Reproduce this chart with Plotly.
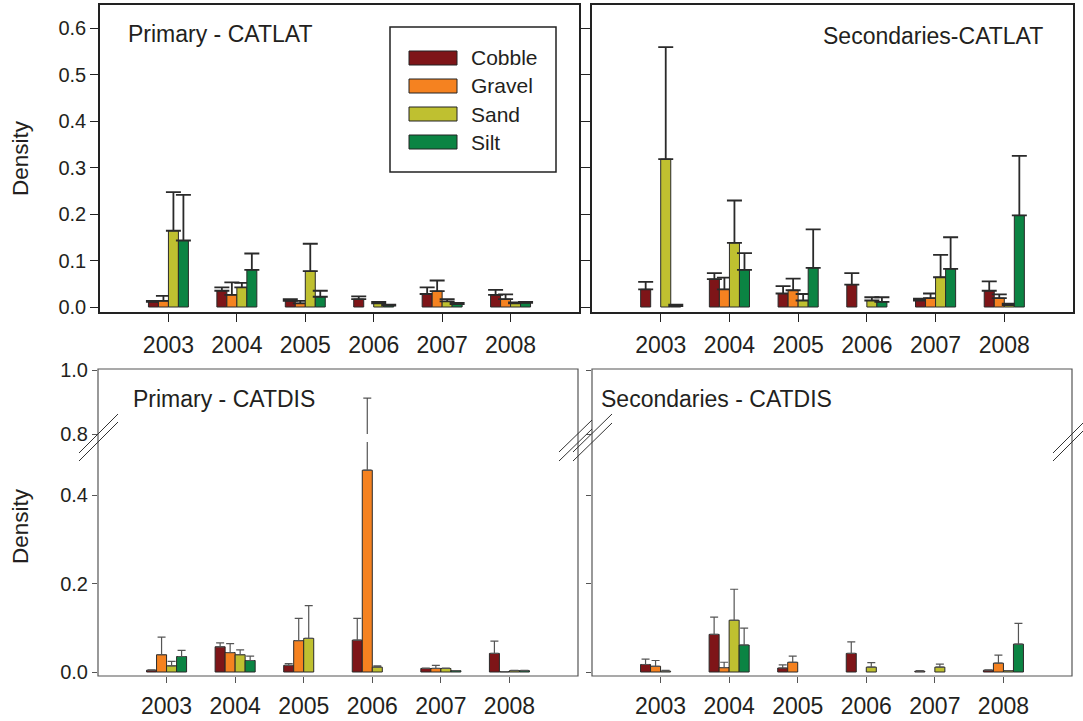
import plotly.graph_objects as go

# ---------------- data ----------------
years = ["2003", "2004", "2005", "2006", "2007", "2008"]
substrates = ["Cobble", "Gravel", "Sand", "Silt"]
colors = ["#7E1518", "#F58220", "#BFC030", "#0B8443"]

# Primary - CATLAT (mean, upper SE)
p_lat_cobble = [0.011, 0.035, 0.013, 0.017, 0.028, 0.026]
p_lat_cobble_se = [0.002, 0.007, 0.004, 0.006, 0.014, 0.011]
p_lat_gravel = [0.013, 0.026, 0.008, None, 0.034, 0.017]
p_lat_gravel_se = [0.011, 0.027, 0.005, 0, 0.023, 0.010]
p_lat_sand = [0.164, 0.042, 0.077, 0.008, 0.012, 0.008]
p_lat_sand_se = [0.083, 0.010, 0.059, 0.003, 0.005, 0.002]
p_lat_silt = [0.143, 0.080, 0.022, 0.003, 0.006, 0.009]
p_lat_silt_se = [0.098, 0.035, 0.013, 0.002, 0.003, 0.002]

# Secondaries - CATLAT
s_lat_cobble = [0.038, 0.060, 0.029, 0.048, 0.014, 0.035]
s_lat_cobble_se = [0.016, 0.013, 0.016, 0.025, 0.004, 0.020]
s_lat_gravel = [None, 0.038, 0.036, None, 0.019, 0.019]
s_lat_gravel_se = [0, 0.025, 0.025, 0, 0.010, 0.008]
s_lat_sand = [0.318, 0.138, 0.014, 0.014, 0.064, 0.004]
s_lat_sand_se = [0.241, 0.091, 0.014, 0.007, 0.048, 0.003]
s_lat_silt = [0.002, 0.080, 0.084, 0.011, 0.082, 0.197]
s_lat_silt_se = [0.003, 0.036, 0.083, 0.010, 0.068, 0.128]

# Primary - CATDIS
p_dis_cobble = [0.004, 0.057, 0.015, 0.072, 0.008, 0.042]
p_dis_cobble_se = [0.001, 0.009, 0.004, 0.049, 0.001, 0.028]
p_dis_gravel = [0.039, 0.044, 0.071, 0.456, 0.008, 0.001]
p_dis_gravel_se = [0.040, 0.020, 0.050, 0.456, 0.007, 0.0]
p_dis_sand = [0.014, 0.039, 0.076, 0.011, 0.008, 0.003]
p_dis_sand_se = [0.010, 0.011, 0.074, 0.003, 0.001, 0.001]
p_dis_silt = [0.035, 0.026, None, None, 0.003, 0.003]
p_dis_silt_se = [0.014, 0.010, 0, 0, 0.0, 0.001]

# Secondaries - CATDIS
s_dis_cobble = [0.017, 0.085, 0.009, 0.042, 0.002, 0.004]
s_dis_cobble_se = [0.012, 0.039, 0.007, 0.026, 0.001, 0.001]
s_dis_gravel = [0.013, 0.010, 0.022, None, None, 0.020]
s_dis_gravel_se = [0.013, 0.012, 0.014, 0, 0, 0.018]
s_dis_sand = [0.002, 0.117, None, 0.011, 0.011, 0.003]
s_dis_sand_se = [0.002, 0.070, 0, 0.010, 0.007, 0.0]
s_dis_silt = [None, 0.061, None, None, None, 0.063]
s_dis_silt_se = [0, 0.038, 0, 0, 0, 0.047]

top_ticks = [0.0, 0.1, 0.2, 0.3, 0.4, 0.5, 0.6]
low_ticks = [0.0, 0.2, 0.4]
up_ticks = [0.8, 1.0]

# ---------------- layout helpers ----------------
W, H = 1083, 721
FONT = "Liberation Sans, Arial, sans-serif"
TXT = "#231F20"


def fx(px):
    return px / W


def fy(py):
    return 1 - py / H


fig = go.Figure()


def add_panel(means, ses, xa, ya, top=True):
    for name, col, m, s in zip(substrates, colors, means, ses):
        fig.add_trace(go.Bar(
            x=years, y=m, name=name, xaxis=xa, yaxis=ya,
            marker=dict(color=col, line=dict(color="#2a2a2a", width=1)),
            error_y=dict(type="data", array=s, symmetric=False,
                         arrayminus=[0] * len(s),
                         color="#2a2a2a" if top else "#555555",
                         thickness=1.8 if top else 1.2,
                         width=7.5 if top else 4),
            showlegend=False, hoverinfo="x+y+name",
        ))


add_panel([p_lat_cobble, p_lat_gravel, p_lat_sand, p_lat_silt],
          [p_lat_cobble_se, p_lat_gravel_se, p_lat_sand_se, p_lat_silt_se], "x", "y")
add_panel([s_lat_cobble, s_lat_gravel, s_lat_sand, s_lat_silt],
          [s_lat_cobble_se, s_lat_gravel_se, s_lat_sand_se, s_lat_silt_se], "x2", "y2")
pd_means = [p_dis_cobble, p_dis_gravel, p_dis_sand, p_dis_silt]
pd_ses = [p_dis_cobble_se, p_dis_gravel_se, p_dis_sand_se, p_dis_silt_se]
sd_means = [s_dis_cobble, s_dis_gravel, s_dis_sand, s_dis_silt]
sd_ses = [s_dis_cobble_se, s_dis_gravel_se, s_dis_sand_se, s_dis_silt_se]
add_panel(pd_means, pd_ses, "x3", "y3", top=False)
add_panel(pd_means, pd_ses, "x3", "y5", top=False)
add_panel(sd_means, sd_ses, "x4", "y4", top=False)
add_panel(sd_means, sd_ses, "x4", "y6", top=False)

# axis styles
xcommon = dict(type="category", categoryorder="array", categoryarray=years,
               range=[-1, 6], ticks="outside", tickfont=dict(size=23, color=TXT, family=FONT),
               fixedrange=True, showgrid=False, zeroline=False, automargin=False)
top_line = dict(showline=True, mirror=True, linecolor="#222222", linewidth=1.5)

ycommon = dict(ticks="outside", tickfont=dict(size=20, color=TXT, family=FONT),
               showgrid=False, zeroline=False, fixedrange=True, automargin=False)

top_dom = [fy(312), fy(5)]
top_range = [-(312 - 307) / 465, (307 - 5) / 465]
low_dom = [fy(676), fy(442)]
low_range = [-(676 - 672) / 442.5, (672 - 442) / 442.5]
up_dom = [fy(434), fy(370)]

fig.update_layout(
    template="none",
    width=W, height=H, autosize=False, margin=dict(l=0, r=0, t=0, b=0, pad=0),
    paper_bgcolor="white", plot_bgcolor="white",
    barmode="group", bargap=0.416, bargroupgap=0,
    font=dict(family=FONT, color=TXT),
    xaxis=dict(domain=[fx(100), fx(579)], anchor="y", ticklen=8, tickcolor="#222",
               ticklabelstandoff=4, **xcommon, **top_line),
    yaxis=dict(domain=top_dom, anchor="x", range=top_range, tickvals=top_ticks,
               tickformat=".1f", ticklen=8, tickcolor="#222", **ycommon, **top_line),
    xaxis2=dict(domain=[fx(592), fx(1073)], anchor="y2", ticklen=8, tickcolor="#222",
                ticklabelstandoff=4, **xcommon, **top_line),
    yaxis2=dict(domain=top_dom, anchor="x2", range=top_range, tickvals=top_ticks,
                showticklabels=False, ticklen=9, tickcolor="#222", **ycommon, **top_line),
    xaxis3=dict(domain=[fx(98), fx(578)], anchor="y3", ticklen=6, tickcolor="#555",
                ticklabelstandoff=3, showline=False, **xcommon),
    yaxis3=dict(domain=low_dom, anchor="x3", range=low_range, tickvals=low_ticks,
                tickformat=".1f", ticklen=5, tickcolor="#555", showline=False, **ycommon),
    yaxis5=dict(domain=up_dom, anchor="x3", range=[0.8, 1.0], tickvals=up_ticks,
                tickformat=".1f", ticklen=5, tickcolor="#555", showline=False, **ycommon),
    xaxis4=dict(domain=[fx(592), fx(1072)], anchor="y4", ticklen=6, tickcolor="#555",
                ticklabelstandoff=3, showline=False, **xcommon),
    yaxis4=dict(domain=low_dom, anchor="x4", range=low_range, tickvals=low_ticks,
                showticklabels=False, ticklen=5, tickcolor="#555", showline=False, **ycommon),
    yaxis6=dict(domain=up_dom, anchor="x4", range=[0.8, 1.0], tickvals=up_ticks,
                showticklabels=False, ticklen=5, tickcolor="#555", showline=False, **ycommon),
)

shapes = []
# bottom frames (continuous across the axis break)
for x0, x1 in [(98, 578), (592, 1072)]:
    shapes.append(dict(type="rect", xref="paper", yref="paper",
                       x0=fx(x0), x1=fx(x1), y0=fy(676), y1=fy(369),
                       line=dict(color="#555555", width=1.2), fillcolor="rgba(0,0,0,0)",
                       layer="above"))
# break marks
for (xa, ya, xb, yb) in [(79, 453, 118, 414), (79, 461, 118, 422),
                         (559, 452, 592, 420), (559, 461, 592, 429),
                         (573, 452, 612, 414), (573, 461, 612, 423),
                         (1053, 453, 1083, 423), (1053, 461, 1083, 431)]:
    shapes.append(dict(type="line", xref="paper", yref="paper",
                       x0=fx(xa), y0=fy(ya), x1=fx(xb), y1=fy(yb),
                       line=dict(color="#333333", width=1), layer="above"))
# legend box and swatches
shapes.append(dict(type="rect", xref="paper", yref="paper",
                   x0=fx(390), x1=fx(556), y0=fy(172), y1=fy(27),
                   line=dict(color="#222222", width=1.5), fillcolor="white", layer="above"))
legend_rows = [58, 86, 114, 142]
annotations = []
for name, col, yc in zip(substrates, colors, legend_rows):
    shapes.append(dict(type="rect", xref="paper", yref="paper",
                       x0=fx(409), x1=fx(457), y0=fy(yc + 7), y1=fy(yc - 7),
                       line=dict(color="#222222", width=1), fillcolor=col, layer="above"))
    annotations.append(dict(text=name, xref="paper", yref="paper", x=fx(469), y=fy(yc),
                            xanchor="left", yanchor="middle", showarrow=False,
                            font=dict(size=21, color=TXT, family=FONT)))

# panel titles
for text, x, y, anchor in [("Primary - CATLAT", 126, 34, "left"),
                           ("Secondaries-CATLAT", 1045, 36, "right"),
                           ("Primary - CATDIS", 131, 399, "left"),
                           ("Secondaries - CATDIS", 599, 399, "left")]:
    annotations.append(dict(text=text, xref="paper", yref="paper", x=fx(x), y=fy(y),
                            xanchor=anchor, yanchor="middle", showarrow=False,
                            font=dict(size=23, color=TXT, family=FONT)))
# y-axis titles
for yc in [158, 526]:
    annotations.append(dict(text="Density", xref="paper", yref="paper", x=fx(20), y=fy(yc),
                            xanchor="center", yanchor="middle", textangle=-90, showarrow=False,
                            font=dict(size=22.5, color=TXT, family=FONT)))

fig.update_layout(shapes=shapes, annotations=annotations)

fig.write_html(
    "out.html",
    config={"responsive": False, "displayModeBar": False},
    post_script="document.body.style.margin='0';document.body.style.padding='0';"
                "document.documentElement.style.overflow='hidden';",
)
